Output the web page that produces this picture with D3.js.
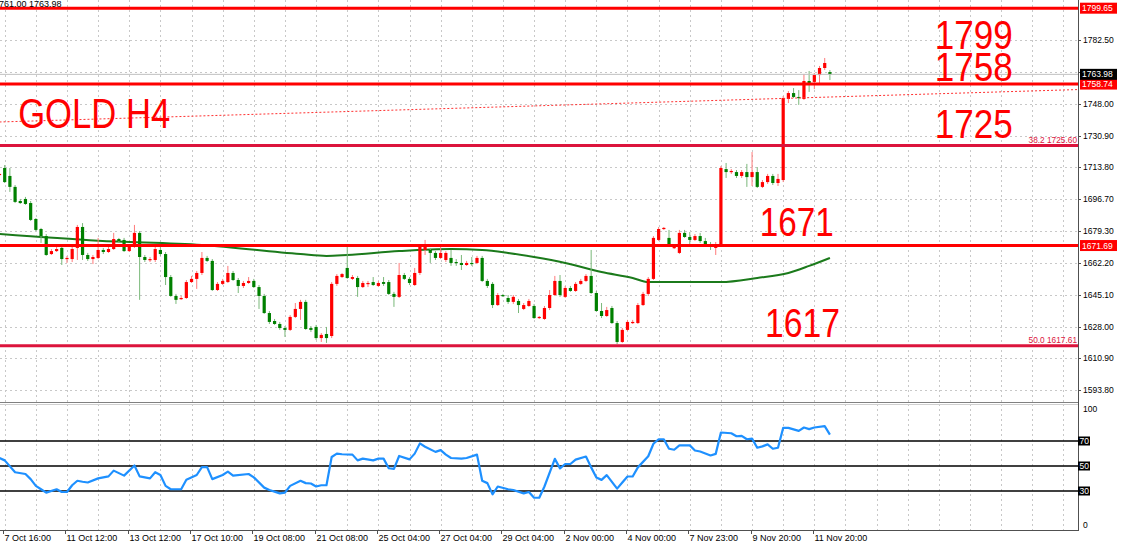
<!DOCTYPE html>
<html><head><meta charset="utf-8">
<script src="https://cdn.jsdelivr.net/npm/d3@7"></script>
<style>html,body{margin:0;padding:0;background:#fff;overflow:hidden}svg{display:block}</style>
</head><body><svg id="c" width="1121" height="545"></svg>
<script>
// ---- DATA (XAUUSD H4) ----
const firstIndex = -1; // candle index of first entry
const open = [1709.7,1713.5,1709.2,1703.3,1695.7,1696.8,1694.6,1686.0,1680.6,1676.8,
1667.1,1668.7,1670.4,1664.4,1664.4,1670.4,1681.7,1666.6,1664.4,1665.0,
1669.3,1668.2,1669.8,1675.2,1674.7,1668.7,1671.4,1678.5,1665.5,1663.9,
1663.9,1669.3,1667.1,1654.7,1644.5,1642.9,1643.4,1652.0,1653.7,1656.9,
1665.0,1663.4,1647.7,1651.0,1652.0,1656.9,1653.1,1649.9,1651.5,1652.6,
1649.3,1644.5,1635.3,1631.0,1629.4,1627.2,1626.2,1633.2,1637.5,1641.3,
1627.2,1627.8,1621.8,1624.0,1622.9,1651.0,1654.7,1659.6,1653.7,1654.2,
1649.3,1651.0,1652.0,1649.9,1652.0,1652.0,1645.6,1644.0,1655.8,1653.7,
1650.4,1656.9,1669.3,1669.3,1667.7,1665.0,1663.9,1665.0,1662.8,1662.3,
1661.2,1662.3,1662.3,1665.0,1652.6,1651.0,1639.6,1645.0,1643.4,1641.3,
1641.8,1637.5,1639.1,1639.1,1632.6,1632.1,1638.0,1645.0,1652.6,1644.0,
1648.8,1647.2,1651.0,1652.6,1655.3,1646.1,1636.4,1633.7,1638.0,1629.9,
1619.7,1626.2,1629.9,1629.9,1639.6,1645.6,1653.7,1674.7,1680.6,1675.8,
1670.4,1667.7,1678.5,1676.3,1674.7,1676.8,1674.1,1672.5,1670.4,1672.0,
1712.9,1711.3,1711.3,1709.2,1711.3,1708.6,1711.3,1703.3,1705.9,1709.2,
1705.4,1707.0,1750.7,1753.9,1751.8,1750.7,1760.4,1759.9,1763.6,1767.4,
1765.2];
const close = [1710.3,1705.9,1703.3,1695.2,1694.6,1694.1,1685.5,1680.1,1676.8,1666.6,
1668.7,1669.8,1664.4,1665.0,1669.8,1681.7,1666.6,1664.4,1665.5,1669.3,
1668.2,1669.8,1675.2,1674.1,1668.7,1670.9,1678.5,1665.5,1663.9,1664.4,
1669.8,1667.1,1654.7,1644.5,1642.4,1643.4,1652.0,1653.7,1656.9,1665.0,
1663.4,1647.7,1651.0,1652.6,1656.9,1653.1,1649.9,1651.5,1652.6,1649.3,
1644.5,1635.3,1630.5,1629.4,1627.2,1626.2,1633.2,1637.5,1641.3,1626.7,
1626.2,1621.8,1623.5,1621.8,1651.0,1655.3,1656.3,1654.2,1654.7,1649.3,
1651.5,1651.5,1650.4,1651.5,1651.0,1645.6,1644.0,1655.8,1653.7,1651.5,
1656.9,1670.9,1671.4,1667.7,1665.0,1667.7,1667.7,1662.3,1662.3,1661.2,
1662.3,1661.7,1665.0,1652.6,1649.9,1639.6,1645.0,1644.5,1641.3,1644.0,
1639.6,1639.6,1641.8,1632.6,1633.2,1638.0,1645.0,1652.6,1645.0,1648.8,
1647.2,1651.0,1652.6,1655.3,1646.1,1636.4,1633.7,1636.9,1629.9,1619.7,
1626.2,1630.5,1630.5,1639.6,1645.6,1653.7,1675.8,1680.6,1681.2,1672.5,
1670.9,1678.5,1676.3,1674.7,1676.8,1674.1,1672.5,1670.9,1672.0,1713.5,
1711.3,1711.9,1709.2,1711.3,1708.6,1711.3,1703.3,1705.9,1709.2,1705.4,
1707.6,1751.2,1753.9,1751.8,1751.2,1760.4,1759.3,1763.6,1767.4,1770.1,
1763.98];
const high = [1711.3,1715.1,1713.5,1704.3,1696.8,1697.9,1695.7,1686.5,1681.2,1677.9,
1669.8,1670.9,1671.4,1666.1,1670.9,1682.8,1683.8,1667.7,1666.6,1675.8,
1670.4,1670.9,1678.5,1675.8,1675.8,1672.0,1682.8,1679.5,1666.6,1665.5,
1670.9,1671.4,1668.2,1655.8,1645.6,1644.5,1653.1,1655.3,1658.0,1668.2,
1666.1,1664.4,1652.0,1653.7,1660.7,1658.0,1654.2,1652.6,1654.7,1653.7,
1650.4,1645.6,1636.4,1632.1,1630.5,1628.3,1634.2,1640.7,1642.4,1642.4,
1628.3,1628.9,1624.5,1627.8,1652.0,1656.3,1656.9,1670.9,1655.8,1655.3,
1652.6,1652.6,1654.7,1652.6,1654.7,1653.1,1646.7,1662.3,1656.9,1654.7,
1659.6,1672.0,1674.7,1670.4,1668.7,1670.9,1668.7,1669.3,1664.4,1666.6,
1663.4,1665.5,1666.1,1666.1,1653.7,1652.0,1646.1,1645.6,1645.0,1645.0,
1642.9,1640.7,1642.9,1640.2,1633.7,1639.1,1647.7,1655.3,1655.8,1649.9,
1649.9,1652.0,1653.7,1656.3,1669.3,1647.2,1640.7,1638.6,1639.1,1631.0,
1627.2,1631.6,1631.6,1640.7,1646.7,1654.7,1676.8,1681.7,1681.7,1680.1,
1672.0,1680.1,1680.1,1679.0,1677.9,1678.5,1675.8,1673.6,1673.6,1714.6,
1716.2,1712.9,1712.4,1712.4,1715.7,1722.1,1714.0,1707.0,1710.3,1710.3,
1710.3,1752.3,1755.0,1756.6,1755.5,1764.2,1765.8,1764.7,1768.5,1772.8,
1766.3];
const low = [1709.2,1705.4,1700.6,1694.6,1694.1,1693.6,1684.9,1679.5,1673.1,1666.1,
1666.6,1668.2,1661.2,1662.3,1662.8,1663.9,1663.9,1663.4,1661.7,1664.4,
1667.1,1667.7,1669.3,1673.1,1668.2,1668.2,1670.4,1642.4,1662.8,1662.8,
1662.8,1666.1,1650.4,1644.0,1640.2,1642.4,1642.9,1651.5,1648.3,1655.8,
1662.8,1647.2,1647.2,1650.4,1651.5,1652.6,1646.1,1648.8,1651.0,1648.8,
1637.5,1634.8,1629.4,1628.9,1626.2,1622.4,1625.6,1632.6,1631.6,1626.2,
1625.1,1620.8,1619.7,1619.2,1621.8,1649.9,1654.2,1653.7,1653.1,1644.0,
1648.8,1649.3,1649.9,1649.3,1649.9,1645.0,1638.6,1643.4,1653.1,1650.4,
1649.9,1655.8,1666.6,1662.3,1663.9,1664.4,1662.8,1660.7,1660.7,1658.5,
1660.7,1660.7,1661.7,1652.0,1648.8,1638.0,1639.1,1644.0,1640.2,1640.2,
1635.3,1636.9,1638.6,1632.1,1632.1,1631.6,1636.9,1644.5,1644.0,1643.4,
1646.7,1646.7,1650.4,1652.0,1645.6,1635.9,1632.6,1633.2,1629.4,1618.6,
1619.2,1625.6,1629.4,1629.4,1639.1,1644.5,1653.1,1674.1,1680.1,1672.0,
1669.8,1667.1,1675.8,1672.0,1674.1,1673.1,1671.4,1669.3,1666.6,1670.9,
1708.1,1710.3,1708.1,1708.1,1703.3,1703.8,1702.7,1702.7,1704.9,1704.3,
1703.8,1705.9,1748.5,1751.2,1747.5,1750.2,1754.5,1756.0,1759.3,1766.3,
1760.9];

// moving average (read at candle indices)
const maIndex = [-1,18,38,57,62,66,76,86,92,97,102,108,115,121,124,130,138,145,151,155,159];
const maValue = [1677.9,1674.3,1672.0,1667.1,1666.1,1666.6,1668.7,1669.8,1669.3,1667.7,1665.5,1662.3,1657.4,1654.2,1652.0,1652.0,1652.0,1654.2,1656.9,1660.7,1665.0];

// RSI vertices (candle index, value)
const rsiIndex = [-1,0,2,4,5,6,7,8,10,11,12,13,14,15,16,18,20,21,23,25,26,28,29,30,31,32,34,35,37,38,39,40,42,43,44,47,48,50,51,53,54,55,57,58,59,60,61,62,63,64,65,67,68,69,71,72,73,74,75,76,78,79,80,81,83,84,85,86,88,89,91,92,93,94,95,97,98,100,101,102,103,104,106,107,108,109,110,112,113,114,115,116,118,119,120,121,122,124,125,126,127,128,129,130,132,133,134,136,137,138,140,141,142,143,144,145,146,147,148,149,150,151,153,154,155,156,158,159];
const rsiValue = [56.4,54.5,45.0,43.6,39.5,34.1,31.4,28.7,31.4,29.2,29.2,34.6,38.2,37.4,36.8,40.1,41.7,46.3,42.3,50.4,41.7,40.1,45.0,42.8,34.1,31.4,31.4,39.0,42.8,49.1,49.1,39.5,42.8,45.5,42.3,43.6,40.9,32.7,30.8,28.1,28.7,34.1,38.2,36.3,36.0,33.6,34.6,34.6,57.2,59.9,59.4,59.1,54.5,55.9,54.5,55.9,55.9,48.2,47.7,58.0,55.3,59.9,68.1,65.4,61.3,62.7,59.1,56.4,55.9,56.4,59.1,38.2,36.3,27.3,33.6,31.4,30.8,28.1,29.2,24.6,24.6,33.6,55.7,48.1,51.6,51.6,55.1,57.6,48.9,40.8,38.9,42.7,31.9,36.8,41.6,41.6,48.9,57.8,67.8,71.4,71.4,63.8,63.0,66.5,66.5,62.4,61.6,58.4,59.7,76.8,76.2,73.8,74.1,71.4,71.9,64.6,65.7,67.3,63.8,64.6,80.5,80.5,78.1,80.8,79.5,80.8,81.9,75.1];

const priceTicks = [1593.80,1610.90,1628.00,1645.10,1662.20,1679.30,1696.70,1713.80,1730.90,1748.00,1765.40,1782.50];
const hiddenTick = 1765.40; // covered by the bid tag in the reference
const timeLabels = ["7 Oct 16:00","11 Oct 12:00","13 Oct 12:00","17 Oct 10:00","19 Oct 08:00","21 Oct 08:00","25 Oct 04:00","27 Oct 04:00","29 Oct 04:00","2 Nov 00:00","4 Nov 00:00","7 Nov 23:00","9 Nov 20:00","11 Nov 20:00"];
const timeLabelIndex = [0,12,24,36,48,60,72,84,96,108,120,132,144,156];

const levelPrices = [1799.65,1758.74,1671.69];
const fibPrices = [1725.60,1617.61];
const fibTexts = ["38.2 1725.60","50.0 1617.61"];
const rsiLevels = [70,50,30];
const bidPrice = 1763.98;
const trendIndex = [-1,207];
const trendPrice = [1738.3,1755.8];

const noteTexts = ["1799","1758","1725","1671","1617","GOLD H4"];
const noteIndex = [179.2,179.2,179.2,145.5,146.5,2.6];
const notePrice = [1777.8,1760.4,1729.4,1676.6,1622.6,1735.3];
const noteWidth = [78,78,78,74,75,152];
const noteSize = [41,41,41,41,41,42];

// ---- DRAW ----
const svg = d3.select('#c');
const AX = 1078, MAIN_B = 402, RSI_T = 404, RSI_B = 530;
const x = d3.scaleLinear().domain([0,159]).range([4.7,829.9]);
const y = d3.scaleLinear().domain([1593.8,1782.5]).range([390,40]);
const ry = d3.scaleLinear().domain([0,100]).range([528.5,403.5]);
const RED = '#ff0000', CRIM = '#dc143c', GRN = '#008000';
const FONT = '"Liberation Sans", Arial, sans-serif';

const defs = svg.append('defs');
defs.append('clipPath').attr('id','cm').append('rect').attr('x',0).attr('y',0).attr('width',AX).attr('height',MAIN_B);
defs.append('clipPath').attr('id','cr').append('rect').attr('x',0).attr('y',RSI_T).attr('width',AX).attr('height',RSI_B-RSI_T);

// grid
const grid = svg.append('g').attr('stroke','#c8c8c8').attr('stroke-width',1).attr('stroke-dasharray','2,3');
priceTicks.forEach(p => {
  const yy = Math.round(y(p)) + 0.5;
  grid.append('line').attr('x1',0).attr('x2',AX).attr('y1',yy).attr('y2',yy);
});
for (let k = 0; x(k) < AX - 2; k += 6) {
  const xx = Math.round(x(k)) + 0.5;
  grid.append('line').attr('x1',xx).attr('x2',xx).attr('y1',0).attr('y2',MAIN_B);
  grid.append('line').attr('x1',xx).attr('x2',xx).attr('y1',RSI_T).attr('y2',RSI_B);
}

const main = svg.append('g').attr('clip-path','url(#cm)');

// MA line
const maData = maIndex.map((k,i)=>({k, v: maValue[i]}));
main.append('path').datum(maData)
  .attr('d', d3.line().x(d=>x(d.k)).y(d=>y(d.v)).curve(d3.curveMonotoneX))
  .attr('fill','none').attr('stroke','#1b7a1b').attr('stroke-width',2);

// candles
const candles = open.map((o,i)=>({k: i+firstIndex, o, h: high[i], l: low[i], c: close[i]}));
const cg = main.append('g');
cg.selectAll('line.w').data(candles).join('line')
  .attr('x1',d=>x(d.k)).attr('x2',d=>x(d.k))
  .attr('y1',d=>y(d.h)).attr('y2',d=>y(d.l))
  .attr('stroke',d=>d.c>=d.o?'#ff7a7a':'#7ab87a').attr('stroke-width',1);
cg.selectAll('rect.b').data(candles).join('rect')
  .attr('x',d=>x(d.k)-1.6).attr('width',3.2)
  .attr('y',d=>y(Math.max(d.o,d.c)))
  .attr('height',d=>Math.max(1.2, Math.abs(y(d.o)-y(d.c))))
  .attr('fill',d=>d.c>=d.o?RED:GRN);

// trend dotted line
main.append('line')
  .attr('x1',x(trendIndex[0])).attr('y1',y(trendPrice[0]))
  .attr('x2',x(trendIndex[1])).attr('y2',y(trendPrice[1]))
  .attr('stroke','#ff3030').attr('stroke-width',1).attr('stroke-dasharray','2,2');

// bid line
main.append('line').attr('x1',0).attr('x2',AX).attr('y1',y(bidPrice)).attr('y2',y(bidPrice))
  .attr('stroke','#c0c0c0').attr('stroke-width',1);

// level lines
levelPrices.forEach(p=>{
  main.append('line').attr('x1',0).attr('x2',AX).attr('y1',y(p)).attr('y2',y(p))
    .attr('stroke',RED).attr('stroke-width',3);
});
fibPrices.forEach((p,i)=>{
  main.append('line').attr('x1',0).attr('x2',AX).attr('y1',y(p)).attr('y2',y(p))
    .attr('stroke',CRIM).attr('stroke-width',3);
  main.append('text').attr('x',AX-1).attr('y',y(p)-2.5).attr('text-anchor','end')
    .attr('font-family',FONT).attr('font-size',8.3).attr('fill',CRIM).text(fibTexts[i]);
});

// big notes
noteTexts.forEach((t,i)=>{
  main.append('text').attr('x',x(noteIndex[i])).attr('y',y(notePrice[i]))
    .attr('font-family',FONT).attr('font-size',noteSize[i]).attr('fill',RED)
    .attr('textLength',noteWidth[i]).attr('lengthAdjust','spacingAndGlyphs').text(t);
});

// header text
svg.append('text').attr('x',-1).attr('y',7).attr('font-family',FONT).attr('font-size',9).attr('fill','#000').text('761.00 1763.98');

// RSI panel
const rg = svg.append('g').attr('clip-path','url(#cr)');
rsiLevels.forEach(v=>{
  rg.append('line').attr('x1',0).attr('x2',AX).attr('y1',ry(v)).attr('y2',ry(v))
    .attr('stroke','#000').attr('stroke-width',1.6);
});
const rsiData = rsiIndex.map((k,i)=>({k, v: rsiValue[i]}));
rg.append('path').datum(rsiData)
  .attr('d', d3.line().x(d=>x(d.k)).y(d=>ry(d.v)))
  .attr('fill','none').attr('stroke','#1e90ff').attr('stroke-width',2.2).attr('stroke-linejoin','round');

// separators & axes
svg.append('line').attr('x1',0).attr('x2',AX).attr('y1',402.5).attr('y2',402.5).attr('stroke','#808080');
svg.append('line').attr('x1',0).attr('x2',AX).attr('y1',404.5).attr('y2',404.5).attr('stroke','#d0d0d0');
svg.append('line').attr('x1',AX+0.5).attr('x2',AX+0.5).attr('y1',0).attr('y2',RSI_B+1).attr('stroke','#505050');
svg.append('line').attr('x1',0).attr('x2',AX+1).attr('y1',RSI_B+0.5).attr('y2',RSI_B+0.5).attr('stroke','#505050');

// price axis labels
const ax = svg.append('g').attr('font-family',FONT).attr('font-size',8.5).attr('fill','#000');
priceTicks.forEach(p=>{
  const yy = Math.round(y(p)) + 0.5;
  ax.append('line').attr('x1',AX).attr('x2',AX+3).attr('y1',yy).attr('y2',yy).attr('stroke','#505050');
  if (p !== hiddenTick) ax.append('text').attr('x',AX+5).attr('y',y(p)+3).text(p.toFixed(2));
});
function tag(p, bg){
  const yy = y(p);
  ax.append('rect').attr('x',AX+2).attr('y',yy-5.5).attr('width',37).attr('height',11).attr('fill',bg);
  ax.append('text').attr('x',AX+4).attr('y',yy+3).attr('fill','#fff').text(p.toFixed(2));
}
levelPrices.forEach(p=>tag(p,RED));
tag(bidPrice,'#000');

// rsi axis labels
ax.append('text').attr('x',AX+5).attr('y',ry(100)+8).text('100');
ax.append('text').attr('x',AX+5).attr('y',ry(0)-1).text('0');
rsiLevels.forEach(v=>{
  ax.append('rect').attr('x',AX).attr('y',ry(v)-4.5).attr('width',12).attr('height',9).attr('fill','#000');
  ax.append('text').attr('x',AX+1.5).attr('y',ry(v)+3).attr('fill','#fff').text(v);
});

// time axis
const tx = svg.append('g').attr('font-family',FONT).attr('font-size',9).attr('fill','#000');
timeLabels.forEach((t,i)=>{
  const xx = Math.round(x(timeLabelIndex[i]) - 1.5) + 0.5;
  tx.append('line').attr('x1',xx).attr('x2',xx).attr('y1',RSI_B).attr('y2',RSI_B+4).attr('stroke','#505050');
  tx.append('text').attr('x',xx+1).attr('y',541).text(t);
});
</script></body></html>
